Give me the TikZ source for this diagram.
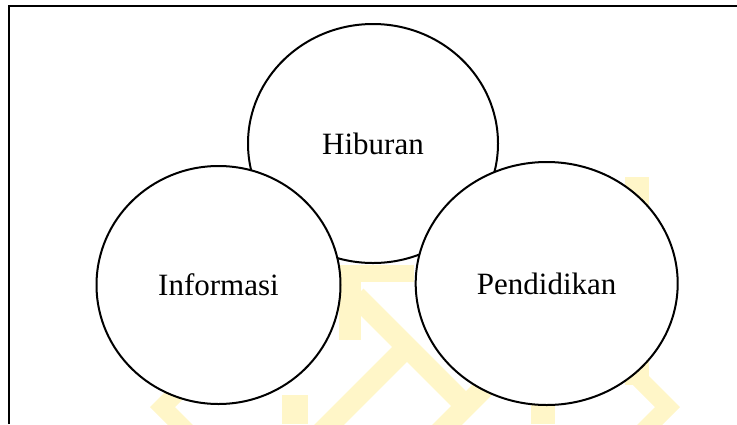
\documentclass[tikz,border=0pt]{standalone}
\usepackage{fontspec}
\setmainfont{Liberation Serif}
\usetikzlibrary{shapes.geometric}
\definecolor{wmyellow}{RGB}{255,246,200}
\tikzset{
  bubble/.style={ellipse, draw=black, line width=2pt, fill=white, inner sep=0pt,
    font=\fontsize{31}{36}\selectfont, text=black},
  wm/.style={fill=wmyellow, draw=none},
  wmline/.style={draw=wmyellow, line width=21pt, line cap=butt}
}
\begin{document}
\begin{tikzpicture}[x=1pt,y=-1pt]
\useasboundingbox (0,0) rectangle (737,424);
% frame
\coordinate (fbl) at (8.5,424);
\coordinate (ftl) at (8.5,6);
\coordinate (ftr) at (737,6);
\draw[line width=2pt] (fbl) -- (ftl) -- (ftr);
% watermark (approximate)
\begin{scope}
\clip (10,8) rectangle (737,424);
\fill[wm] (212,370) -- (187,370) -- (150,407) -- (187,444) -- (212,444) -- (175,407) -- cycle;
\fill[wm] (181,177) rectangle (205,385);
\fill[wm] (282,395) rectangle (308,424);
\fill[wm] (339,265) rectangle (361,340);
\fill[wm] (361,265) rectangle (414,282);
\draw[wmline] (356,296) -- (462,402);
\draw[wmline] (318,436) -- (414,340);
\draw[wmline] (436,436) -- (500,372);
\fill[wm] (531,380) rectangle (555,424);
\fill[wm] (625,177) rectangle (649,385);
\fill[wm] (618,370) -- (643,370) -- (680,407) -- (643,444) -- (618,444) -- (655,407) -- cycle;
\end{scope}
% bubbles
\node[bubble, minimum width=250pt, minimum height=239pt] (hib) at (373,143.5) {Hiburan};
\node[bubble, minimum width=244pt, minimum height=238pt] (inf) at (218.5,285) {Informasi};
\node[bubble, minimum width=262pt, minimum height=243pt] (pen) at (546.7,283.5) {Pendidikan};
\end{tikzpicture}
\end{document}
